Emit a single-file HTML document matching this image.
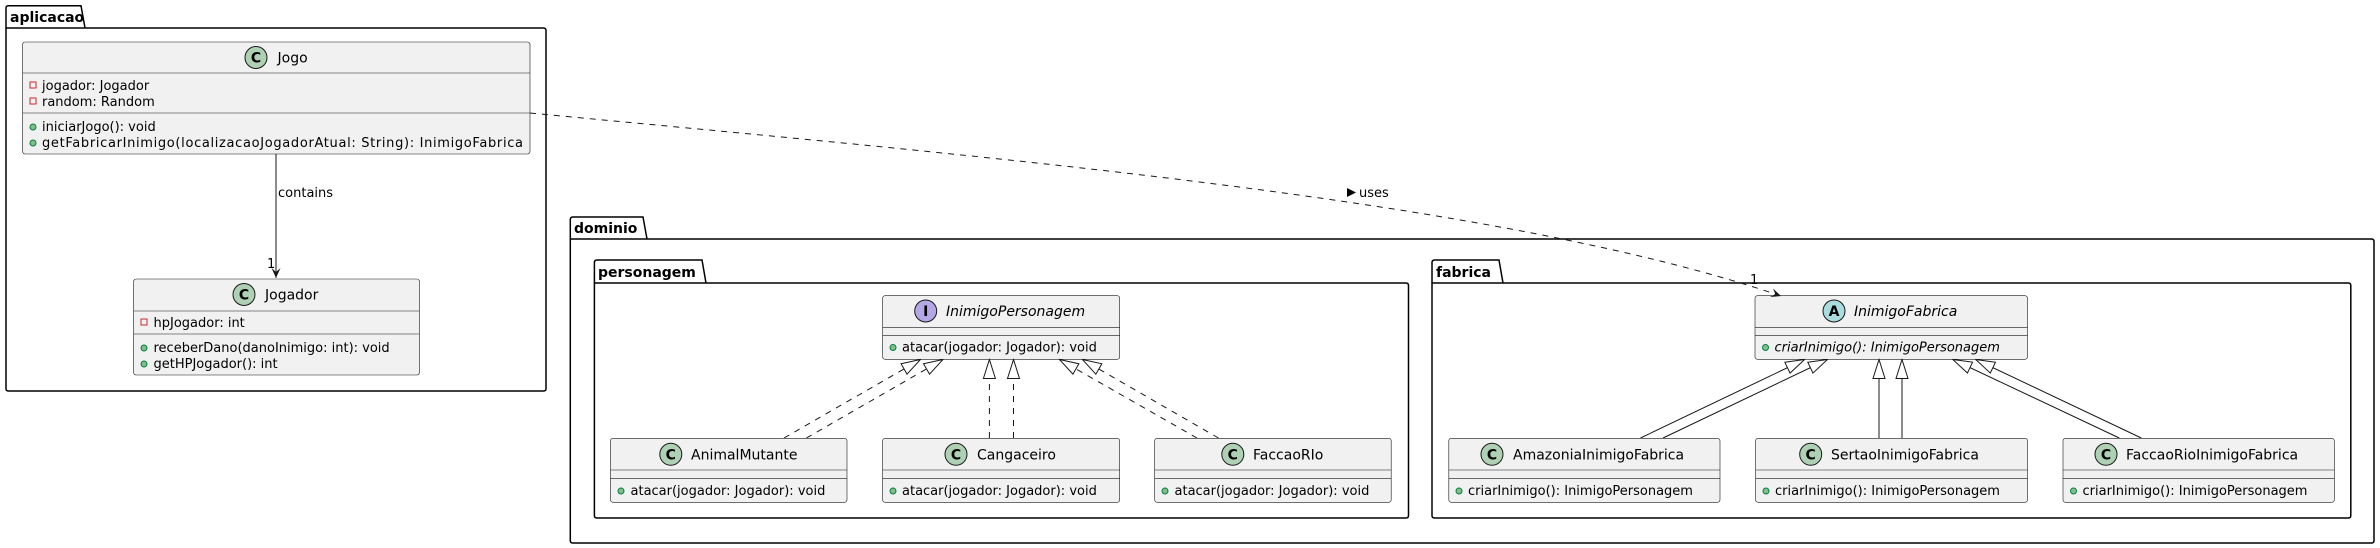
<!DOCTYPE html>
<html><head><meta charset="utf-8"><style>
html,body{margin:0;padding:0;background:#fff;}
svg{display:block;}
text{font-family:"DejaVu Sans","Liberation Sans",sans-serif;font-size:13px;fill:#000;}
.pk{font-weight:bold;font-size:14px;}
.t{font-size:14px;}
.it{font-style:italic;}
.box{fill:#F1F1F1;stroke:#181818;stroke-width:0.6;}
.sep{stroke:#181818;stroke-width:0.6;}
.frame{fill:none;stroke:#000;stroke-width:1.5;}
.circ{stroke:#181818;stroke-width:1;}
.cl{font-weight:bold;font-size:14px;}
.pub{fill:#84BE84;stroke:#038048;stroke-width:1;}
.priv{fill:none;stroke:#C82930;stroke-width:1;}
.rel{fill:none;stroke:#181818;stroke-width:1;}
.dash{stroke-dasharray:6,6;}
</style></head><body>
<svg width="2380" height="548" viewBox="0 0 2380 548" xmlns="http://www.w3.org/2000/svg">
<defs>
<marker id="tri" viewBox="-1 -7 21 14" refX="19" refY="0" markerWidth="21" markerHeight="14" markerUnits="userSpaceOnUse" orient="auto">
<path d="M0,-6 L19,0 L0,6 Z" fill="#fff" stroke="#181818" stroke-width="1"/>
</marker>
<marker id="arr" viewBox="-11 -6 12 12" refX="0" refY="0" markerWidth="12" markerHeight="12" markerUnits="userSpaceOnUse" orient="auto">
<path d="M0,0 L-10,-4.5 L-6,0 L-10,4.5 Z" fill="#181818"/>
</marker>
</defs>

<path class="frame" d="M6,28 L6,8 Q6,5.7 8.5,5.7 L81,5.7 L85,28" />
<path class="frame" d="M6,28 L543.5,28 Q546,28 546,30.5 L546,388.5 Q546,391 543.5,391 L8.5,391 Q6,391 6,388.5 Z"/>
<text class="pk" x="10" y="22">aplicacao</text>

<rect class="box" x="22.6" y="42" width="507.4" height="112" rx="2.5"/>
<line class="sep" x1="22.6" y1="73" x2="530" y2="73"/>
<line class="sep" x1="22.6" y1="113" x2="530" y2="113"/>
<circle class="circ" cx="256" cy="57.5" r="11" fill="#ADD1B2"/>
<text class="cl" x="256" y="62.5" text-anchor="middle">C</text>
<text class="t" x="277.5" y="62.5">Jogo</text>
<rect class="priv" x="30" y="82" width="6" height="6"/>
<text x="42" y="90">jogador: Jogador</text>
<rect class="priv" x="30" y="98" width="6" height="6"/>
<text x="42" y="106">random: Random</text>
<circle class="pub" cx="33" cy="127" r="3"/>
<text x="42" y="131">iniciarJogo(): void</text>
<circle class="pub" cx="33" cy="143" r="3"/>
<text x="42" y="147" textLength="481" lengthAdjust="spacing">getFabricarInimigo(localizacaoJogadorAtual: String): InimigoFabrica</text>

<line class="rel" x1="276" y1="154" x2="276" y2="278" marker-end="url(#arr)"/>
<text x="278" y="197">contains</text>
<text x="267" y="268">1</text>

<rect class="box" x="133.6" y="279" width="285.8" height="96" rx="2.5"/>
<line class="sep" x1="133.6" y1="311" x2="419.4" y2="311"/>
<line class="sep" x1="133.6" y1="334" x2="419.4" y2="334"/>
<circle class="circ" cx="244" cy="294.5" r="11" fill="#ADD1B2"/>
<text class="cl" x="244" y="299.5" text-anchor="middle">C</text>
<text class="t" x="265" y="299.5">Jogador</text>
<rect class="priv" x="141" y="319" width="6" height="6"/>
<text x="153.5" y="327">hpJogador: int</text>
<circle class="pub" cx="144" cy="348" r="3"/>
<text x="153.5" y="352">receberDano(danoInimigo: int): void</text>
<circle class="pub" cx="144" cy="364" r="3"/>
<text x="153.5" y="368">getHPJogador(): int</text>

<path class="frame" d="M570.3,239 L570.3,219.5 Q570.3,217 572.8,217 L643,217 L647,239"/>
<path class="frame" d="M570.3,239 L2371.5,239 Q2374,239 2374,241.5 L2374,540.5 Q2374,543 2371.5,543 L572.8,543 Q570.3,543 570.3,540.5 Z"/>
<text class="pk" x="574" y="233">dominio</text>

<path class="frame" d="M594.4,283 L594.4,262.5 Q594.4,260 596.9,260 L702,260 L706,283"/>
<path class="frame" d="M594.4,283 L1406,283 Q1408.5,283 1408.5,285.5 L1408.5,515.5 Q1408.5,518 1406,518 L596.9,518 Q594.4,518 594.4,515.5 Z"/>
<text class="pk" x="598" y="277">personagem</text>

<path class="frame" d="M1432,283 L1432,262.5 Q1432,260 1434.5,260 L1499,260 L1503,283"/>
<path class="frame" d="M1432,283 L2348.3,283 Q2350.8,283 2350.8,285.5 L2350.8,515.5 Q2350.8,518 2348.3,518 L1434.5,518 Q1432,518 1432,515.5 Z"/>
<text class="pk" x="1436" y="277">fabrica</text>

<rect class="box" x="882.6" y="295.7" width="237.1" height="63.6" rx="2.5"/>
<line class="sep" x1="882.6" y1="327.3" x2="1119.7" y2="327.3"/>
<line class="sep" x1="882.6" y1="335.3" x2="1119.7" y2="335.3"/>
<circle class="circ" cx="925.7" cy="311" r="11" fill="#B4A7E5"/>
<text class="cl" x="925.7" y="316" text-anchor="middle">I</text>
<text class="t it" x="946" y="316">InimigoPersonagem</text>
<circle class="pub" cx="893" cy="347.5" r="3"/>
<text x="902" y="351.5">atacar(jogador: Jogador): void</text>

<g>
<rect class="box" x="610.5" y="438.3" width="236.5" height="64" rx="2.5"/>
<line class="sep" x1="610.5" y1="470" x2="847" y2="470"/>
<line class="sep" x1="610.5" y1="478.3" x2="847" y2="478.3"/>
<circle class="circ" cx="670.8" cy="454.3" r="11" fill="#ADD1B2"/>
<text class="cl" x="670.8" y="459.3" text-anchor="middle">C</text>
<text class="t" x="691" y="459.3">AnimalMutante</text>
<circle class="pub" cx="621" cy="491" r="3"/>
<text x="630.5" y="495">atacar(jogador: Jogador): void</text>
</g>
<g>
<rect class="box" x="882.6" y="438.3" width="237.1" height="64" rx="2.5"/>
<line class="sep" x1="882.6" y1="470" x2="1119.7" y2="470"/>
<line class="sep" x1="882.6" y1="478.3" x2="1119.7" y2="478.3"/>
<circle class="circ" cx="956" cy="454.3" r="11" fill="#ADD1B2"/>
<text class="cl" x="956" y="459.3" text-anchor="middle">C</text>
<text class="t" x="977" y="459.3">Cangaceiro</text>
<circle class="pub" cx="893" cy="491" r="3"/>
<text x="902" y="495">atacar(jogador: Jogador): void</text>
</g>
<g>
<rect class="box" x="1154.7" y="438.3" width="236.5" height="64" rx="2.5"/>
<line class="sep" x1="1154.7" y1="470" x2="1391.2" y2="470"/>
<line class="sep" x1="1154.7" y1="478.3" x2="1391.2" y2="478.3"/>
<circle class="circ" cx="1232.8" cy="454.3" r="11" fill="#ADD1B2"/>
<text class="cl" x="1232.8" y="459.3" text-anchor="middle">C</text>
<text class="t" x="1253" y="459.3">FaccaoRIo</text>
<circle class="pub" cx="1165" cy="491" r="3"/>
<text x="1174.5" y="495">atacar(jogador: Jogador): void</text>
</g>

<line class="rel dash" x1="784" y1="438" x2="920.5" y2="359.5" marker-end="url(#tri)"/>
<line class="rel dash" x1="806.4" y1="438" x2="943" y2="359.5" marker-end="url(#tri)"/>
<line class="rel dash" x1="989.4" y1="438" x2="989.4" y2="359.5" marker-end="url(#tri)"/>
<line class="rel dash" x1="1013.5" y1="438" x2="1013.5" y2="359.5" marker-end="url(#tri)"/>
<line class="rel dash" x1="1197" y1="438" x2="1059.4" y2="359.5" marker-end="url(#tri)"/>
<line class="rel dash" x1="1218.5" y1="438" x2="1082.4" y2="359.5" marker-end="url(#tri)"/>

<rect class="box" x="1755" y="295.7" width="272.5" height="63.6" rx="2.5"/>
<line class="sep" x1="1755" y1="327.3" x2="2027.5" y2="327.3"/>
<line class="sep" x1="1755" y1="335.3" x2="2027.5" y2="335.3"/>
<circle class="circ" cx="1834" cy="311" r="11" fill="#A9DCDF"/>
<text class="cl" x="1834" y="316" text-anchor="middle">A</text>
<text class="t it" x="1854" y="316">InimigoFabrica</text>
<circle class="pub" cx="1765.5" cy="347.5" r="3"/>
<text class="it" x="1774.5" y="351.5">criarInimigo(): InimigoPersonagem</text>

<g>
<rect class="box" x="1448.8" y="438.3" width="271.2" height="64" rx="2.5"/>
<line class="sep" x1="1448.8" y1="470" x2="1720" y2="470"/>
<line class="sep" x1="1448.8" y1="478.3" x2="1720" y2="478.3"/>
<circle class="circ" cx="1492" cy="454.3" r="11" fill="#ADD1B2"/>
<text class="cl" x="1492" y="459.3" text-anchor="middle">C</text>
<text class="t" x="1513" y="459.3">AmazoniaInimigoFabrica</text>
<circle class="pub" cx="1459" cy="491" r="3"/>
<text x="1468" y="495">criarInimigo(): InimigoPersonagem</text>
</g>
<g>
<rect class="box" x="1755.6" y="438.3" width="271.9" height="64" rx="2.5"/>
<line class="sep" x1="1755.6" y1="470" x2="2027.5" y2="470"/>
<line class="sep" x1="1755.6" y1="478.3" x2="2027.5" y2="478.3"/>
<circle class="circ" cx="1810.7" cy="454.3" r="11" fill="#ADD1B2"/>
<text class="cl" x="1810.7" y="459.3" text-anchor="middle">C</text>
<text class="t" x="1831" y="459.3">SertaoInimigoFabrica</text>
<circle class="pub" cx="1766" cy="491" r="3"/>
<text x="1775" y="495">criarInimigo(): InimigoPersonagem</text>
</g>
<g>
<rect class="box" x="2063" y="438.3" width="271.3" height="64" rx="2.5"/>
<line class="sep" x1="2063" y1="470" x2="2334.3" y2="470"/>
<line class="sep" x1="2063" y1="478.3" x2="2334.3" y2="478.3"/>
<circle class="circ" cx="2106" cy="454.3" r="11" fill="#ADD1B2"/>
<text class="cl" x="2106" y="459.3" text-anchor="middle">C</text>
<text class="t" x="2126" y="459.3">FaccaoRioInimigoFabrica</text>
<circle class="pub" cx="2073.5" cy="491" r="3"/>
<text x="2082.5" y="495">criarInimigo(): InimigoPersonagem</text>
</g>

<line class="rel" x1="1640.5" y1="438" x2="1804.6" y2="359.5" marker-end="url(#tri)"/>
<line class="rel" x1="1663" y1="438" x2="1827.5" y2="359.5" marker-end="url(#tri)"/>
<line class="rel" x1="1879" y1="438" x2="1879" y2="359.5" marker-end="url(#tri)"/>
<line class="rel" x1="1902" y1="438" x2="1902" y2="359.5" marker-end="url(#tri)"/>
<line class="rel" x1="2119.3" y1="438" x2="1952.8" y2="359.5" marker-end="url(#tri)"/>
<line class="rel" x1="2141.3" y1="438" x2="1975.7" y2="359.5" marker-end="url(#tri)"/>

<path class="rel dash" d="M530,113 C1000,158 1500,200 1781,296" marker-end="url(#arr)"/>
<path d="M1347,188 L1356,192.5 L1347,197 Z" fill="#000"/>
<text x="1359" y="197">uses</text>
<text x="1750" y="284">1</text>
</svg>
</body></html>
